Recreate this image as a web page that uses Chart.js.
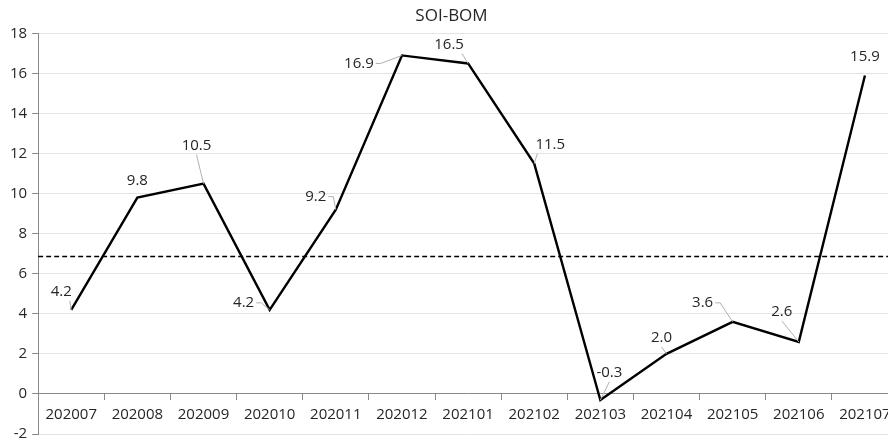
<!DOCTYPE html>
<html>
<head>
<meta charset="utf-8">
<script src="https://cdn.jsdelivr.net/npm/chart.js@4.4.1/dist/chart.umd.min.js"></script>
<style>
  html, body { margin: 0; padding: 0; background: #fff; overflow: hidden; }
  #wrap { width: 911px; height: 448px; }
</style>
</head>
<body>
<div id="wrap"><canvas id="c" width="911" height="448"></canvas></div>
<script>
const months = ['202007','202008','202009','202010','202011','202012','202101','202102','202103','202104','202105','202106','202107'];
const soiValues = [4.2, 9.8, 10.5, 4.2, 9.2, 16.9, 16.5, 11.5, -0.3, 2.0, 3.6, 2.6, 15.9];
const referenceLevel = [6.9];
const yTicks = [-2, 0, 2, 4, 6, 8, 10, 12, 14, 16, 18];

// label placement (offset of label centre from point, and leader anchor side)
const labelPlacement = [
  {dx: -10, dy: -18, lead: 'br'},
  {dx: 0, dy: -17, lead: null},
  {dx: -7, dy: -38, lead: 'b'},
  {dx: -26, dy: -7, lead: 'r'},
  {dx: -20, dy: -13, lead: 'r'},
  {dx: -43, dy: 8, lead: 'r'},
  {dx: -19, dy: -19, lead: 'br'},
  {dx: 16, dy: -19, lead: 'bl'},
  {dx: 9, dy: -27, lead: 'b'},
  {dx: -5, dy: -16, lead: 'b'},
  {dx: -30, dy: -19, lead: 'r'},
  {dx: -17, dy: -30, lead: 'b'},
  {dx: 0, dy: -19, lead: null}
];

const TEXT = '#262626';
const FONT = "'Open Sans', sans-serif";

const refLinePlugin = {
  id: 'refLine',
  beforeDatasetsDraw(chart) {
    const {ctx, chartArea, scales} = chart;
    const y = Math.round(scales.y.getPixelForValue(referenceLevel[0])) + 0.5;
    ctx.save();
    ctx.strokeStyle = '#000';
    ctx.lineWidth = 1.5;
    ctx.setLineDash([5, 3]);
    ctx.beginPath();
    ctx.moveTo(chartArea.left, y);
    ctx.lineTo(chart.width, y);
    ctx.stroke();
    ctx.restore();
  }
};

const labelPlugin = {
  id: 'dataLabels',
  afterDatasetsDraw(chart) {
    const {ctx} = chart;
    const meta = chart.getDatasetMeta(0);
    ctx.save();
    ctx.font = '15px ' + FONT;
    ctx.textAlign = 'center';
    ctx.textBaseline = 'middle';
    meta.data.forEach((pt, i) => {
      const p = labelPlacement[i];
      const txt = soiValues[i].toFixed(1);
      const cx = pt.x + p.dx, cy = pt.y + p.dy;
      const w = ctx.measureText(txt).width, h = 14;
      if (p.lead) {
        let ax, ay, sx = null;
        if (p.lead === 'r') { ax = cx + w / 2 + 2; ay = cy; sx = ax + 5; }
        else if (p.lead === 'l') { ax = cx - w / 2 - 2; ay = cy; sx = ax - 5; }
        else if (p.lead === 'b') { ax = cx; ay = cy + h / 2 + 2; }
        else if (p.lead === 'br') { ax = cx + w / 2 - 2; ay = cy + h / 2 + 2; }
        else if (p.lead === 'bl') { ax = cx - w / 2 + 2; ay = cy + h / 2 + 2; }
        ctx.strokeStyle = '#b0b0b0';
        ctx.lineWidth = 1;
        ctx.beginPath();
        ctx.moveTo(ax, ay);
        if (sx !== null) ctx.lineTo(sx, ay);
        ctx.lineTo(pt.x, pt.y);
        ctx.stroke();
      }
      ctx.fillStyle = TEXT;
      ctx.fillText(txt, cx, cy);
    });
    ctx.restore();
  }
};

new Chart(document.getElementById('c'), {
  type: 'line',
  data: {
    labels: months,
    datasets: [{
      label: 'SOI-BOM',
      data: soiValues,
      borderColor: '#000',
      borderWidth: 2.4,
      pointRadius: 0,
      tension: 0,
      fill: false
    }]
  },
  options: {
    responsive: false,
    animation: false,
    devicePixelRatio: 1,
    layout: { padding: { left: 5, right: 13, top: 0, bottom: 0 } },
    plugins: {
      legend: { display: false },
      tooltip: { enabled: false },
      title: {
        display: true,
        text: 'SOI-BOM',
        color: TEXT,
        font: { family: FONT, size: 17, weight: 'normal' },
        padding: { top: 6, bottom: 7 }
      }
    },
    scales: {
      y: {
        min: -2,
        max: 18,
        afterBuildTicks(scale) { scale.ticks = yTicks.map(v => ({value: v})); },
        ticks: { color: TEXT, font: { family: FONT, size: 15 }, padding: 5 },
        grid: { color: '#e3e3e3', lineWidth: 1, tickLength: 6, tickColor: '#888' },
        border: { color: '#888', width: 1 }
      },
      x: {
        position: { y: 0 },
        offset: true,
        ticks: { color: TEXT, font: { family: FONT, size: 15 }, autoSkip: false, maxRotation: 0, padding: 6 },
        grid: { offset: true, drawOnChartArea: false, drawTicks: true, tickLength: 6, color: '#888' },
        border: { color: '#888', width: 1 }
      }
    }
  },
  plugins: [refLinePlugin, labelPlugin]
});
</script>
</body>
</html>
